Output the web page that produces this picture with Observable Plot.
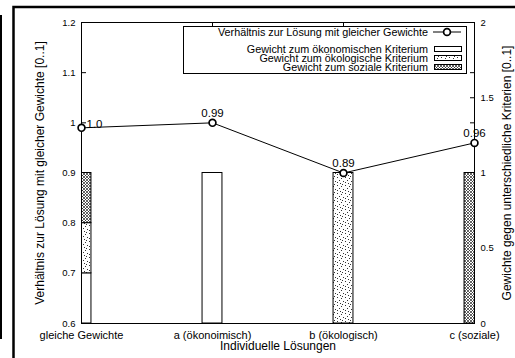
<!DOCTYPE html>
<html><head><meta charset="utf-8">
<script src="https://cdn.jsdelivr.net/npm/d3@7"></script>
<script src="https://cdn.jsdelivr.net/npm/@observablehq/plot@0.6"></script>
<style>
body{margin:0;background:#fff;}
#chart svg{display:block;}
</style></head><body><div id="chart"></div>
<script>
const categories = ["gleiche Gewichte", "a (ökonoimisch)", "b (ökologisch)", "c (soziale)"];
const ratioValues = [0.99, 1.0, 0.9, 0.96];
const ratioLabels = ["1.0", "0.99", "0.89", "0.96"];
const weightEcon = [1/3, 1, 0, 0];
const weightEco = [1/3, 0, 1, 0];
const weightSoc = [1/3, 0, 0, 1];
const criteria = ["Gewicht zum ökonomischen Kriterium", "Gewicht zum ökologische Kriterium", "Gewicht zum soziale Kriterium"];
const lineName = "Verhältnis zur Lösung mit gleicher Gewichte";
const leftTicks = [0.6, 0.7, 0.8, 0.9, 1.0, 1.1, 1.2];
const leftTickLabels = ["0.6", "0.7", "0.8", "0.9", "1", "1.1", "1.2"];
const rightTicks = [0, 0.5, 1, 1.5, 2];
const rightTickLabels = ["0", "0.5", "1", "1.5", "2"];
const xTitle = "Individuelle Lösungen";
const yTitle = "Verhältnis zur Lösung mit gleicher Gewichte [0..1]";
const y2Title = "Gewichte gegen unterschiedliche Kriterien [0..1]";

// right axis (0..2) mapped onto left axis (0.6..1.2)
const toLeft = w => 0.6 + w * 0.3;
const half = 0.076;
const patterns = ["url(#pEcon)", "url(#pEco)", "url(#pSoc)"];
const weightSeries = [weightEcon, weightEco, weightSoc];

const rects = [[], [], []];
categories.forEach((c, i) => {
  let cum = 0;
  weightSeries.forEach((s, k) => {
    const v = s[i];
    if (v > 0) {
      rects[k].push({x1: i - half, x2: i + half, y1: toLeft(cum), y2: toLeft(cum + v)});
      cum += v;
    }
  });
});
const pts = ratioValues.map((v, i) => ({i, v, label: ratioLabels[i]}));
const idx = categories.map((c, i) => i);
const rightMapped = rightTicks.map(toLeft);

const font = "Liberation Sans, Arial, Helvetica, sans-serif";
const chart = Plot.plot({
  width: 515, height: 358,
  marginLeft: 81, marginRight: 41, marginTop: 22, marginBottom: 35,
  style: {fontFamily: font, fontSize: "11px", background: "white", color: "black"},
  x: {type: "linear", domain: [0, 3]},
  y: {type: "linear", domain: [0.6, 1.2]},
  marks: [
    Plot.axisX(idx, {anchor: "bottom", tickSize: 5, dy: -5, tickFormat: () => "", label: null}),
    Plot.axisX(idx, {anchor: "top", tickSize: 5, dy: 5, tickFormat: () => "", label: null}),
    Plot.axisY(leftTicks, {anchor: "left", tickSize: 5, dx: 5, tickFormat: () => "", label: null}),
    Plot.axisY([...leftTicks, ...rightMapped], {anchor: "right", tickSize: 5, dx: -5, tickFormat: () => "", label: null}),
    ...rects.map((r, k) => Plot.rect(r, {x1: "x1", x2: "x2", y1: "y1", y2: "y2", fill: patterns[k], stroke: "black", strokeWidth: 1, clip: true})),
    Plot.frame({stroke: "black", strokeWidth: 1}),
    Plot.axisX(idx, {anchor: "bottom", tickSize: 0, tickPadding: 8, tickFormat: i => categories[i], fontSize: 11, label: null}),
    Plot.axisY(leftTicks, {anchor: "left", tickSize: 0, tickPadding: 6, tickFormat: d => leftTickLabels[leftTicks.indexOf(d)], fontSize: 9.5, label: null}),
    Plot.axisY(rightMapped, {anchor: "right", tickSize: 0, tickPadding: 6, tickFormat: d => rightTickLabels[rightMapped.indexOf(d)], fontSize: 9.5, label: null}),
    Plot.line(pts, {x: "i", y: "v", stroke: "black", strokeWidth: 1}),
    Plot.dot(pts, {x: "i", y: "v", r: 3.4, stroke: "black", strokeWidth: 1.7, fill: "white"}),
    Plot.text(pts.slice(0, 1), {x: "i", y: "v", text: "label", dx: 13, dy: -4, fontSize: 11.5}),
    Plot.text(pts.slice(1), {x: "i", y: "v", text: "label", dy: -10, fontSize: 11.5}),
    Plot.text([xTitle], {frameAnchor: "bottom", dy: 26, fontSize: 12}),
    Plot.text([yTitle], {frameAnchor: "left", textAnchor: "middle", dx: -41, rotate: -90, fontSize: 12}),
    Plot.text([y2Title], {frameAnchor: "right", textAnchor: "middle", dx: 33, rotate: -90, fontSize: 12})
  ]
});
document.getElementById("chart").appendChild(chart);

// patterns
const svg = d3.select(chart);
const defs = svg.insert("defs", ":first-child");
const pe = defs.append("pattern").attr("id", "pEcon").attr("patternUnits", "userSpaceOnUse").attr("width", 4).attr("height", 4);
pe.append("rect").attr("width", 4).attr("height", 4).attr("fill", "white");
const pd = defs.append("pattern").attr("id", "pEco").attr("patternUnits", "userSpaceOnUse").attr("width", 8).attr("height", 8);
pd.append("rect").attr("width", 8).attr("height", 8).attr("fill", "white");
[[1,1],[5,2],[3,4],[7,5],[1,6],[4,7],[6,0]].forEach(([x, y]) => pd.append("rect").attr("x", x).attr("y", y).attr("width", 1).attr("height", 1).attr("fill", "#333"));
const ps = defs.append("pattern").attr("id", "pSoc").attr("patternUnits", "userSpaceOnUse").attr("width", 3).attr("height", 3);
ps.append("rect").attr("width", 3).attr("height", 3).attr("fill", "white");
ps.append("path").attr("d", "M0,0L3,3M3,0L0,3").attr("stroke", "#222").attr("stroke-width", 0.7);

// legend
const lg = svg.append("g").attr("font-family", font).attr("font-size", 10.8);
lg.append("rect").attr("x", 183.5).attr("y", 26.5).attr("width", 283).attr("height", 47).attr("fill", "white").attr("stroke", "black");
const rows = [{t: lineName, y: 32}, {t: criteria[0], y: 49, p: patterns[0]}, {t: criteria[1], y: 58, p: patterns[1]}, {t: criteria[2], y: 67, p: patterns[2]}];
rows.forEach(r => {
  lg.append("text").attr("x", 428).attr("y", r.y).attr("dy", "0.35em").attr("text-anchor", "end").text(r.t);
  if (r.p) {
    lg.append("rect").attr("x", 434.5).attr("y", r.y - 2.5).attr("width", 27).attr("height", 5).attr("fill", r.p).attr("stroke", "black");
  } else {
    lg.append("line").attr("x1", 433).attr("x2", 461).attr("y1", r.y).attr("y2", r.y).attr("stroke", "black");
    lg.append("circle").attr("cx", 447).attr("cy", r.y).attr("r", 3.4).attr("fill", "white").attr("stroke", "black").attr("stroke-width", 1.7);
  }
});
// outer frame decorations
svg.append("path").attr("d", "M13.5,358V7H515").attr("fill", "none").attr("stroke", "black").attr("stroke-width", 2.5);
svg.append("rect").attr("x", 0).attr("y", 15).attr("width", 2).attr("height", 324).attr("fill", "black");
</script></body></html>
